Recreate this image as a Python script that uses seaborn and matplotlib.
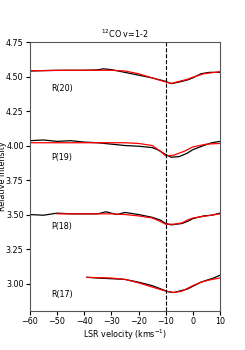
import numpy as np
import pandas as pd
import matplotlib
matplotlib.use("Agg")
import matplotlib.pyplot as plt
import seaborn as sns

# observed (black) and model (red) profiles, offset per transition
r20_v = [-60, -50, -40, -35, -33, -30, -25, -20, -15, -10, -8, -5, -2, 0, 3, 6, 10]
r20_obs = [4.54, 4.545, 4.545, 4.548, 4.556, 4.55, 4.53, 4.51, 4.49, 4.465, 4.448, 4.46, 4.475, 4.49, 4.52, 4.53, 4.53]
r20_mod_v = [-60, -45, -30, -25, -20, -15, -10, -8, -5, -2, 0, 4, 10]
r20_mod = [4.542, 4.545, 4.545, 4.54, 4.52, 4.49, 4.46, 4.45, 4.465, 4.48, 4.495, 4.52, 4.535]

p19_v = [-60, -55, -50, -45, -40, -35, -30, -25, -20, -15, -13, -10, -8, -5, -2, 0, 4, 7, 10]
p19_obs = [4.035, 4.04, 4.03, 4.035, 4.025, 4.02, 4.01, 4.0, 3.995, 3.985, 3.97, 3.935, 3.915, 3.92, 3.945, 3.97, 4.0, 4.02, 4.03]
p19_mod_v = [-60, -40, -25, -20, -15, -12, -10, -7, -3, 0, 5, 10]
p19_mod = [4.02, 4.02, 4.02, 4.015, 4.0, 3.96, 3.925, 3.93, 3.96, 3.99, 4.01, 4.015]

p18_v = [-60, -55, -50, -45, -40, -35, -32, -28, -25, -20, -15, -12, -10, -8, -4, -2, 0, 4, 7, 10]
p18_obs = [3.50, 3.495, 3.51, 3.505, 3.505, 3.505, 3.52, 3.50, 3.515, 3.50, 3.48, 3.46, 3.435, 3.425, 3.435, 3.45, 3.47, 3.49, 3.495, 3.51]
p18_mod_v = [-50, -40, -30, -25, -20, -15, -12, -10, -7, -4, -2, 0, 5, 10]
p18_mod = [3.505, 3.505, 3.505, 3.50, 3.49, 3.475, 3.45, 3.43, 3.43, 3.44, 3.46, 3.475, 3.49, 3.505]

r17_v = [-39, -35, -30, -25, -20, -15, -11, -9, -7, -5, -2, 0, 3, 6, 7, 10]
r17_obs = [3.045, 3.04, 3.035, 3.03, 3.01, 2.985, 2.955, 2.94, 2.935, 2.945, 2.96, 2.98, 3.01, 3.03, 3.035, 3.06]
r17_mod_v = [-39, -30, -25, -20, -15, -10, -7, -4, -2, 0, 3, 7, 10]
r17_mod = [3.045, 3.04, 3.03, 3.005, 2.975, 2.945, 2.935, 2.945, 2.965, 2.985, 3.01, 3.03, 3.04]

labels = ["R(20)", "P(19)", "P(18)", "R(17)"]
label_y = [4.415, 3.915, 3.415, 2.92]

fs = 5.8
plt.rcParams["font.size"] = fs
fig = plt.figure(figsize=(2.45, 3.5), dpi=100)
ax = fig.add_axes([0.122, 0.111, 0.776, 0.769])

for v, y in [(r20_v, r20_obs), (p19_v, p19_obs), (p18_v, p18_obs), (r17_v, r17_obs)]:
    sns.lineplot(x=v, y=y, ax=ax, color="black", lw=0.9)
for v, y in [(r20_mod_v, r20_mod), (p19_mod_v, p19_mod), (p18_mod_v, p18_mod), (r17_mod_v, r17_mod)]:
    sns.lineplot(x=v, y=y, ax=ax, color="red", lw=0.9)

ax.axvline(-10, color="black", ls="--", lw=0.8)
for lab, yy in zip(labels, label_y):
    ax.text(-52, yy, lab, fontsize=fs, va="center", ha="left")

ax.set_xlim(-60, 10)
ax.set_ylim(2.80, 4.75)
ax.set_xticks([-60, -50, -40, -30, -20, -10, 0, 10])
ax.set_yticks([3.0, 3.25, 3.5, 3.75, 4.0, 4.25, 4.5, 4.75])
ax.set_xlabel("LSR velocity (kms$^{-1}$)", fontsize=fs, labelpad=1)
ax.set_ylabel("Relative Intensity", fontsize=fs)
ax.yaxis.set_label_coords(-0.118, 0.5)
ax.set_title("$^{12}$CO v=1-2", fontsize=fs, pad=3)
ax.tick_params(labelsize=fs, length=3, pad=1.5)
for s in ax.spines.values():
    s.set_color("#555555")

fig.savefig("out.png", dpi=100)
